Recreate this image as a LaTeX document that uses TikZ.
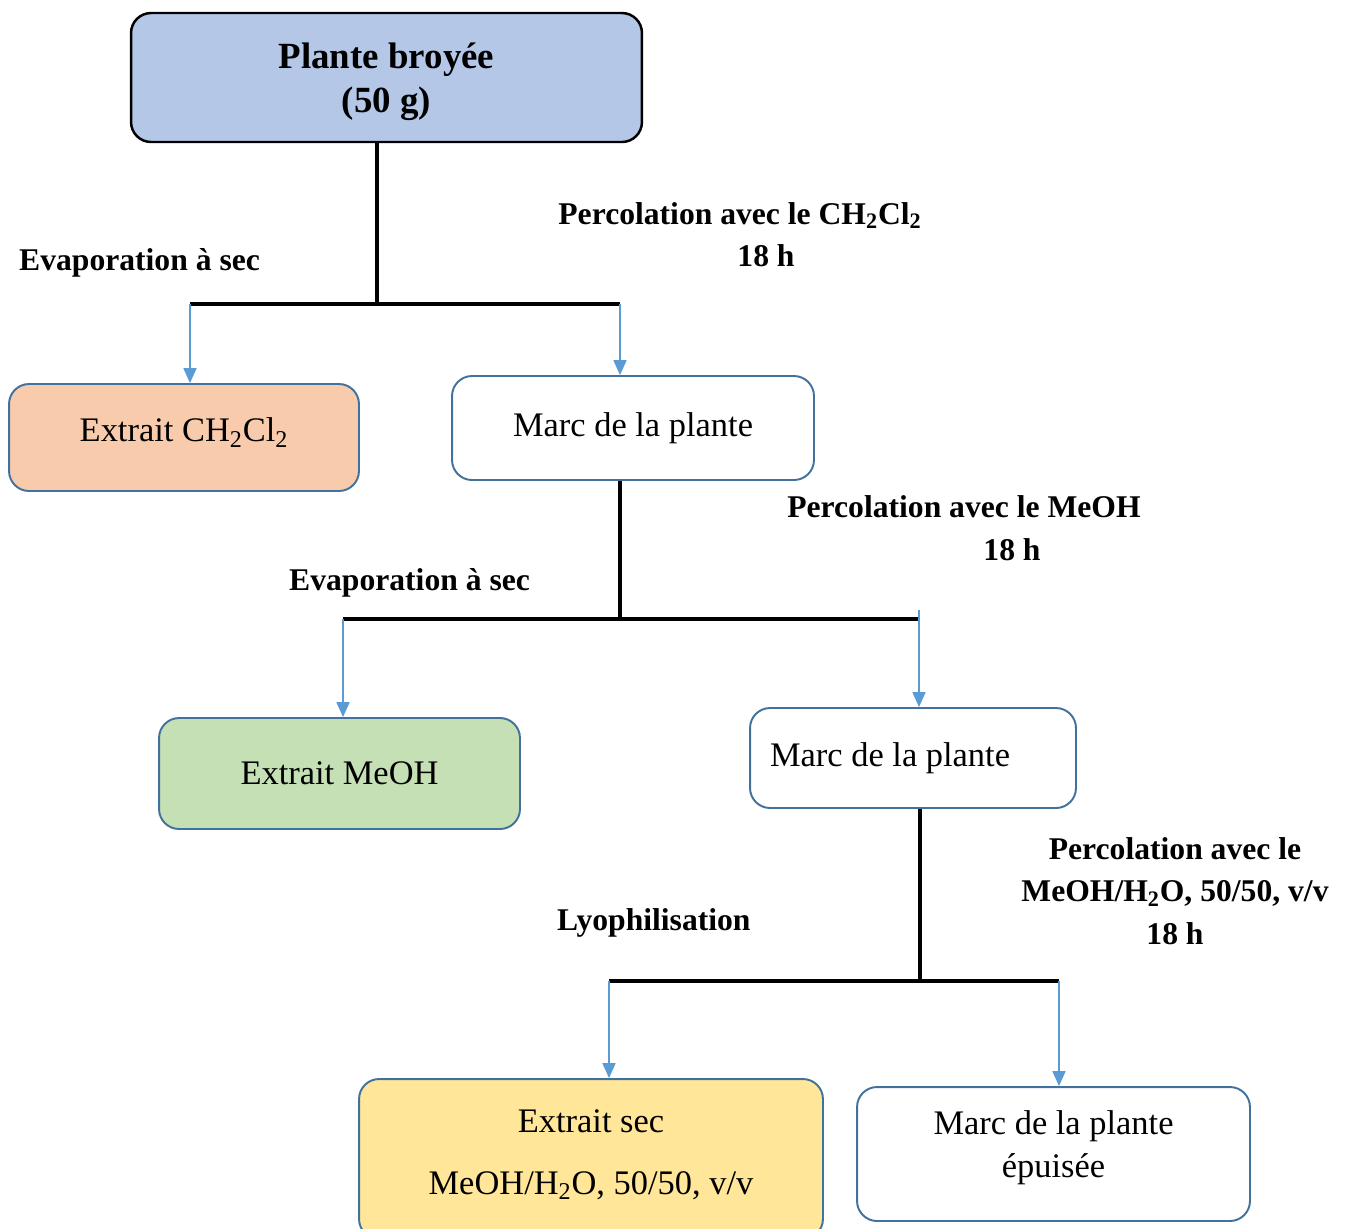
\documentclass[tikz,border=0pt]{standalone}
\usepackage{fontspec}
\setmainfont{Liberation Serif}
\usetikzlibrary{arrows.meta}
\definecolor{boxblue}{HTML}{41719C}
\definecolor{arrowblue}{HTML}{5B9BD5}
\definecolor{plantfill}{HTML}{B4C7E7}
\definecolor{dcmfill}{HTML}{F8CBAD}
\definecolor{meohfill}{HTML}{C5E0B4}
\definecolor{secfill}{HTML}{FFE699}

\begin{document}
\begin{tikzpicture}[x=0.02cm, y=-0.02cm,
    box/.style={draw=boxblue, line width=1.1pt, rounded corners=0.4cm, align=center, font=\fontsize{19.6}{24.4}\selectfont},
    stem/.style={line width=2pt},
    feed/.style={arrowblue, line width=0.6pt, -{Triangle[length=8.5pt,width=7.5pt]}},
    lbl/.style={font=\bfseries\fontsize{18}{24.2}\selectfont, align=center}]
    \useasboundingbox (0,0) rectangle (1348,1228);

    \node [box, draw=black, line width=1.4pt, fill=plantfill, minimum width=10.22cm, minimum height=2.58cm, text depth=0pt, font=\bfseries\fontsize{21}{25}\selectfont] (plante) at (386.5,77.5) {Plante broyée\\(50 g)};
    \node [box, fill=dcmfill, minimum width=7cm, minimum height=2.14cm, text depth=9pt] (dcm) at (184,437.5) {Extrait CH\textsubscript{2}Cl\textsubscript{2}};
    \node [box, minimum width=7.24cm, minimum height=2.08cm] (marc1) at (633,428) {Marc de la plante};
    \node [box, fill=meohfill, minimum width=7.22cm, minimum height=2.22cm] (meoh) at (339.5,773.5) {Extrait MeOH};
    \node [box, minimum width=6.52cm, minimum height=2cm, text width=5.72cm, align=flush left, inner xsep=0.4cm] (marc2) at (913,758) {Marc de la plante};
    \node [box, fill=secfill, minimum width=9.28cm, minimum height=3.2cm, text depth=8pt] (sec) at (591,1159) {Extrait sec\\[10.6pt]MeOH/H\textsubscript{2}O, 50/50, v/v};
    \node [box, minimum width=7.86cm, minimum height=2.68cm, text depth=11pt] (epuise) at (1053.5,1154) {Marc de la plante\\épuisée};

    \coordinate (j1) at (377,304);
    \coordinate (j1l) at (190,304);
    \coordinate (j1r) at (620,304);
    \draw [stem] (j1 |- plante.south) -- (j1);
    \draw [stem] (j1l) -- (j1r);
    \draw [feed] (j1l) -- (j1l |- dcm.north);
    \draw [feed] (j1r) -- (j1r |- marc1.north);

    \coordinate (j2) at (620,619);
    \coordinate (j2l) at (343,619);
    \coordinate (j2r) at (919,619);
    \draw [stem] (j2 |- marc1.south) -- (j2);
    \draw [stem] (j2l) -- (j2r);
    \draw [feed] (j2l) -- (j2l |- meoh.north);
    \draw [feed] ([yshift=5pt]j2r) -- (j2r |- marc2.north);

    \coordinate (j3) at (920,981);
    \coordinate (j3l) at (609,981);
    \coordinate (j3r) at (1059,981);
    \draw [stem] (j3 |- marc2.south) -- (j3);
    \draw [stem] (j3l) -- (j3r);
    \draw [feed] (j3l) -- (j3l |- sec.north);
    \draw [feed] (j3r) -- (j3r |- epuise.north);

    \node [lbl, anchor=west] (evap1) at (13,263) {Evaporation à sec};
    \node [lbl] (perc1) at (740,234.5) {Percolation avec le CH\textsubscript{2}Cl\textsubscript{2}\\\hspace*{1.04cm}18 h};
    \node [lbl] (perc2) at (964,528) {Percolation avec le MeOH\\\hspace*{1.92cm}18 h};
    \node [lbl, anchor=west] (evap2) at (283,583) {Evaporation à sec};
    \node [lbl, anchor=west] (lyo) at (551,923) {Lyophilisation};
    \node [lbl] (perc3) at (1175,891) {Percolation avec le\\MeOH/H\textsubscript{2}O, 50/50, v/v\\18 h};
\end{tikzpicture}
\end{document}
